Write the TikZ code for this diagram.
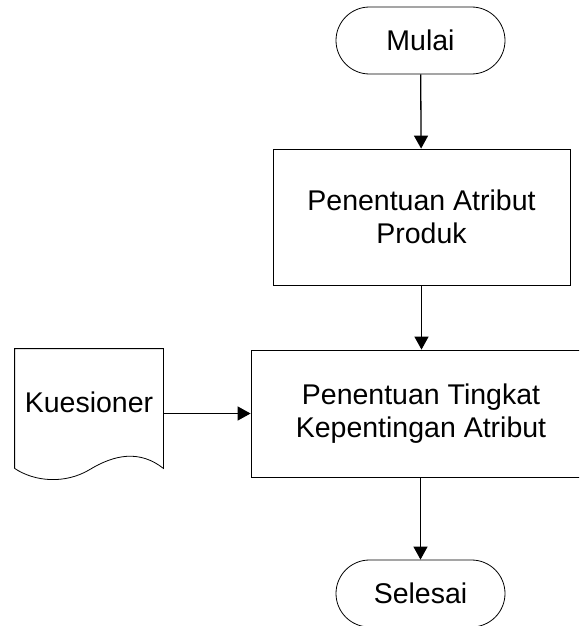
\documentclass[tikz,border=0pt]{standalone}
\usepackage{fontspec}
\setmainfont{Liberation Sans}
\usetikzlibrary{arrows.meta}

\begin{document}
\begin{tikzpicture}[x=1pt,y={(0pt,-1pt)},
    line width=0.8pt,
    every node/.style={align=center, font=\fontsize{28.5}{33}\selectfont},
    terminal/.style={draw, rectangle, rounded corners=33.5pt, minimum width=169pt, minimum height=67pt, inner sep=0pt},
    process/.style={draw, rectangle, inner sep=0pt},
    flow/.style={line width=1.3pt, -{Triangle[length=13pt,width=14pt]}}]
      \useasboundingbox (0,0) rectangle (579,626);
      \clip (0,0) rectangle (579,626);
      \node[terminal] at (420.5, 40.5) (mulai) {Mulai};
      \node[process, minimum width=297pt, minimum height=136pt] at (421.5, 217) (atribut) {Penentuan Atribut\\Produk};
      \node[process, minimum width=340pt, minimum height=127pt] at (421, 413.5) (tingkat) {Penentuan Tingkat\\Kepentingan Atribut};
      \node[terminal] at (420.5, 593.5) (selesai) {Selesai};
      % document shape
      \node[minimum width=148pt, minimum height=119pt, inner sep=0pt] at (89, 408.5) (kues) {};
      \node at (89, 402) (kuestext) {Kuesioner};
      \draw (kues.south west) -- (kues.north west) -- (kues.north east) -- (kues.south east)
        .. controls (140, 450) and (115, 454) .. (89, 470)
        .. controls (65, 484) and (35, 482) .. (kues.south west);
      \draw[flow] (mulai) -- (atribut);
      \draw[flow] (atribut) -- (atribut |- tingkat.north);
      \draw[flow] (kues.east |- tingkat.west) -- (tingkat.west);
      \draw[flow] (tingkat.south -| selesai) -- (selesai);
\end{tikzpicture}
\end{document}
